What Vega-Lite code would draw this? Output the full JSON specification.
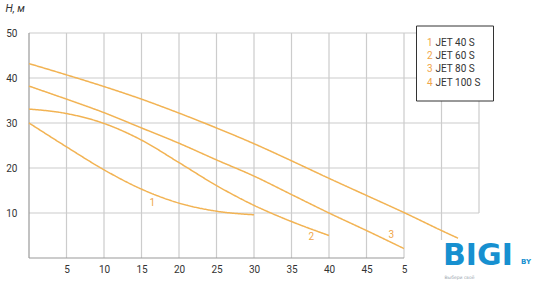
{
  "$schema": "https://vega.github.io/schema/vega-lite/v6.json",
  "width": 450,
  "height": 225,
  "autosize": "none",
  "padding": {"left": 29, "top": 33, "right": 81, "bottom": 25},
  "background": "white",
  "config": {"view": {"stroke": null}, "font": "Roboto"},
  "datasets": {
    "curves": [
      {"name": "JET 40 S", "num": "1", "Q": 0, "H": 30.0},
      {"name": "JET 40 S", "num": "1", "Q": 5, "H": 24.7},
      {"name": "JET 40 S", "num": "1", "Q": 10, "H": 19.6},
      {"name": "JET 40 S", "num": "1", "Q": 15, "H": 15.3},
      {"name": "JET 40 S", "num": "1", "Q": 20, "H": 12.2},
      {"name": "JET 40 S", "num": "1", "Q": 25, "H": 10.4},
      {"name": "JET 40 S", "num": "1", "Q": 30, "H": 9.6},
      {"name": "JET 60 S", "num": "2", "Q": 0, "H": 33.1},
      {"name": "JET 60 S", "num": "2", "Q": 5, "H": 32.1},
      {"name": "JET 60 S", "num": "2", "Q": 10, "H": 29.9},
      {"name": "JET 60 S", "num": "2", "Q": 15, "H": 26.2},
      {"name": "JET 60 S", "num": "2", "Q": 20, "H": 21.2},
      {"name": "JET 60 S", "num": "2", "Q": 25, "H": 16.1},
      {"name": "JET 60 S", "num": "2", "Q": 30, "H": 11.7},
      {"name": "JET 60 S", "num": "2", "Q": 35, "H": 8.1},
      {"name": "JET 60 S", "num": "2", "Q": 40, "H": 5.0},
      {"name": "JET 80 S", "num": "3", "Q": 0, "H": 38.2},
      {"name": "JET 80 S", "num": "3", "Q": 5, "H": 35.3},
      {"name": "JET 80 S", "num": "3", "Q": 10, "H": 32.3},
      {"name": "JET 80 S", "num": "3", "Q": 15, "H": 28.9},
      {"name": "JET 80 S", "num": "3", "Q": 20, "H": 25.5},
      {"name": "JET 80 S", "num": "3", "Q": 25, "H": 21.8},
      {"name": "JET 80 S", "num": "3", "Q": 30, "H": 18.2},
      {"name": "JET 80 S", "num": "3", "Q": 35, "H": 14.1},
      {"name": "JET 80 S", "num": "3", "Q": 40, "H": 10.0},
      {"name": "JET 80 S", "num": "3", "Q": 45, "H": 6.1},
      {"name": "JET 80 S", "num": "3", "Q": 50, "H": 2.1},
      {"name": "JET 100 S", "num": "4", "Q": 0, "H": 43.2},
      {"name": "JET 100 S", "num": "4", "Q": 5, "H": 40.7},
      {"name": "JET 100 S", "num": "4", "Q": 10, "H": 38.1},
      {"name": "JET 100 S", "num": "4", "Q": 15, "H": 35.3},
      {"name": "JET 100 S", "num": "4", "Q": 20, "H": 32.2},
      {"name": "JET 100 S", "num": "4", "Q": 25, "H": 28.9},
      {"name": "JET 100 S", "num": "4", "Q": 30, "H": 25.4},
      {"name": "JET 100 S", "num": "4", "Q": 35, "H": 21.6},
      {"name": "JET 100 S", "num": "4", "Q": 40, "H": 17.7},
      {"name": "JET 100 S", "num": "4", "Q": 45, "H": 13.9},
      {"name": "JET 100 S", "num": "4", "Q": 50, "H": 10.1},
      {"name": "JET 100 S", "num": "4", "Q": 55, "H": 6.1},
      {"name": "JET 100 S", "num": "4", "Q": 57.2, "H": 4.4}
    ],
    "vgrid": [
      {"Q": 5, "H": 0, "H2": 50},
      {"Q": 10, "H": 0, "H2": 50},
      {"Q": 15, "H": 0, "H2": 50},
      {"Q": 20, "H": 0, "H2": 50},
      {"Q": 25, "H": 0, "H2": 50},
      {"Q": 30, "H": 0, "H2": 50},
      {"Q": 35, "H": 0, "H2": 50},
      {"Q": 40, "H": 0, "H2": 50},
      {"Q": 45, "H": 0, "H2": 50},
      {"Q": 50, "H": 0, "H2": 50},
      {"Q": 55, "H": 4, "H2": 50},
      {"Q": 60, "H": 10, "H2": 50}
    ],
    "hgrid": [
      {"Q": 0, "Q2": 60, "H": 10},
      {"Q": 0, "Q2": 60, "H": 20},
      {"Q": 0, "Q2": 60, "H": 30},
      {"Q": 0, "Q2": 60, "H": 40},
      {"Q": 0, "Q2": 60, "H": 50}
    ],
    "axislines": [
      {"Q": 0, "Q2": 0, "H": 0, "H2": 50},
      {"Q": 0, "Q2": 50, "H": 0, "H2": 0}
    ],
    "labels": [
      {"label": "1", "Q": 16.45, "H": 12.2},
      {"label": "2", "Q": 37.65, "H": 4.7},
      {"label": "3", "Q": 48.3, "H": 5.2}
    ]
  },
  "layer": [
    {
      "data": {"name": "vgrid"},
      "mark": {"type": "rule", "color": "#cccccc", "strokeWidth": 1.2},
      "encoding": {
        "x": {
          "field": "Q", "type": "quantitative",
          "scale": {"domain": [0, 60], "nice": false, "zero": false},
          "axis": {
            "values": [5, 10, 15, 20, 25, 30, 35, 40, 45, 50],
            "labelExpr": "datum.value == 50 ? '5' : datum.label",
            "domain": false, "ticks": false, "tickSize": 0, "grid": false,
            "labelPadding": 6, "labelFont": "Roboto", "labelFontSize": 10,
            "labelColor": "#333333", "title": null
          }
        },
        "y": {
          "field": "H", "type": "quantitative",
          "scale": {"domain": [0, 50], "nice": false, "zero": false},
          "axis": {
            "values": [10, 20, 30, 40, 50],
            "domain": false, "ticks": false, "tickSize": 0, "grid": false,
            "labelPadding": 12, "labelFont": "Roboto", "labelFontSize": 10,
            "labelColor": "#333333",
            "title": "H, м", "titleAngle": 0, "titleX": -24, "titleY": -25,
            "titleAlign": "left", "titleBaseline": "middle",
            "titleFontStyle": "italic", "titleFontWeight": "normal",
            "titleFont": "Roboto", "titleFontSize": 10.5, "titleColor": "#333333"
          }
        },
        "y2": {"field": "H2"}
      }
    },
    {
      "data": {"name": "hgrid"},
      "mark": {"type": "rule", "color": "#cccccc", "strokeWidth": 1.2},
      "encoding": {
        "x": {"field": "Q", "type": "quantitative"},
        "x2": {"field": "Q2"},
        "y": {"field": "H", "type": "quantitative"}
      }
    },
    {
      "data": {"name": "axislines"},
      "mark": {"type": "rule", "color": "#999999", "strokeWidth": 1.2},
      "encoding": {
        "x": {"field": "Q", "type": "quantitative"},
        "x2": {"field": "Q2"},
        "y": {"field": "H", "type": "quantitative"},
        "y2": {"field": "H2"}
      }
    },
    {
      "data": {"name": "curves"},
      "mark": {"type": "line", "interpolate": "monotone", "strokeWidth": 1.5},
      "encoding": {
        "x": {"field": "Q", "type": "quantitative"},
        "y": {"field": "H", "type": "quantitative"},
        "color": {
          "field": "name", "type": "nominal",
          "scale": {
            "domain": ["JET 40 S", "JET 60 S", "JET 80 S", "JET 100 S"],
            "range": ["#F2B353", "#F2B353", "#F2B353", "#F2B353"]
          },
          "legend": {
            "orient": "none", "legendX": 387, "legendY": -7.5, "title": null,
            "padding": 12, "strokeColor": "#333333", "fillColor": "white",
            "symbolType": "square", "symbolSize": 25, "symbolOpacity": 0,
            "labelOffset": -2.5, "labelFont": "Roboto", "labelFontSize": 10,
            "labelColor": "#333333", "rowPadding": 3.4, "zindex": 0
          }
        },
        "strokeDash": {
          "field": "num", "type": "nominal",
          "scale": {
            "domain": ["1", "2", "3", "4"],
            "range": [[1, 0], [1, 0], [1, 0], [1, 0]]
          },
          "legend": {
            "orient": "none", "legendX": 388, "legendY": 4.5, "title": null,
            "padding": 0, "symbolSize": 0, "symbolOpacity": 0,
            "labelOffset": 0, "labelFont": "Roboto", "labelFontSize": 10,
            "labelColor": "#EFA64A", "rowPadding": 3.4, "zindex": 1
          }
        }
      }
    },
    {
      "data": {"name": "labels"},
      "mark": {"type": "text", "color": "#EFA64A", "font": "Roboto", "fontSize": 10, "align": "center", "baseline": "middle"},
      "encoding": {
        "x": {"field": "Q", "type": "quantitative"},
        "y": {"field": "H", "type": "quantitative"},
        "text": {"field": "label"}
      }
    },
    {
      "data": {"values": [{}]},
      "mark": {"type": "text", "text": "BIGI", "color": "#1790D0", "font": "DejaVu Sans", "fontWeight": "bold", "fontSize": 30, "align": "left", "baseline": "middle"},
      "encoding": {
        "x": {"datum": 55.2, "type": "quantitative"},
        "y": {"datum": 0.5, "type": "quantitative"}
      }
    },
    {
      "data": {"values": [{}]},
      "mark": {"type": "text", "text": "BY", "color": "#1790D0", "font": "DejaVu Sans", "fontWeight": "bold", "fontSize": 7, "align": "left", "baseline": "middle"},
      "encoding": {
        "x": {"datum": 65.6, "type": "quantitative"},
        "y": {"datum": -0.9, "type": "quantitative"}
      }
    },
    {
      "data": {"values": [{}]},
      "mark": {"type": "text", "text": "Выбери своё", "color": "#9aa5ad", "font": "DejaVu Sans", "fontSize": 4.5, "align": "left", "baseline": "middle"},
      "encoding": {
        "x": {"datum": 55.4, "type": "quantitative"},
        "y": {"datum": -4.4, "type": "quantitative"}
      }
    }
  ]
}
